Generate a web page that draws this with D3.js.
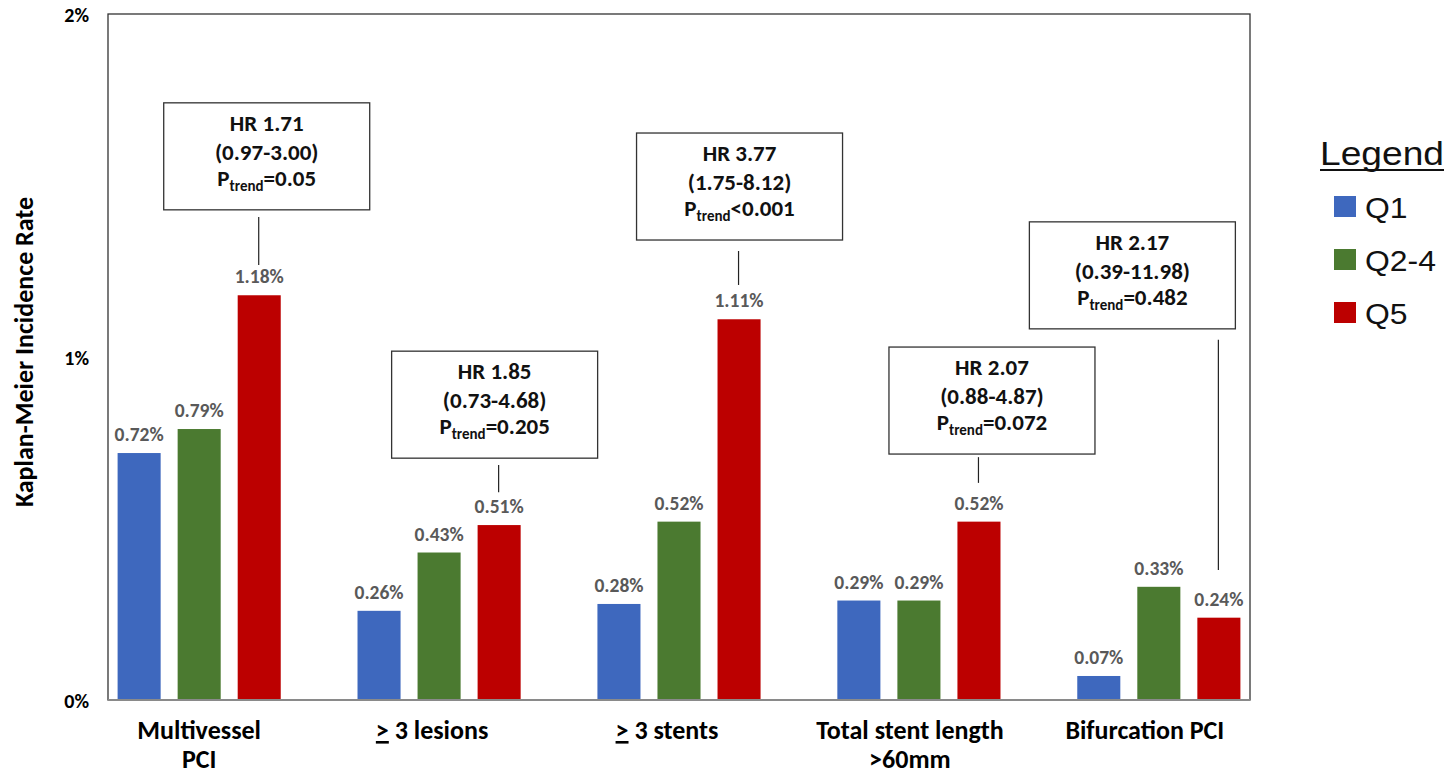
<!DOCTYPE html>
<html>
<head>
<meta charset="utf-8">
<script src="https://cdn.jsdelivr.net/npm/d3@7"></script>
<style>
  html, body { margin: 0; padding: 0; background: #fff; }
  svg { display: block; }
  .bold { font-family: Carlito, Calibri, Lato, "Open Sans", sans-serif; font-weight: 700; }
  .legend { font-family: "Liberation Sans", Arial, Helvetica, sans-serif; }
</style>
</head>
<body>
<svg id="chart" width="1447" height="776"></svg>
<script>
// Procedural complexity categories and Kaplan-Meier incidence rates (%) by quintile
const categories = ["Multivessel PCI", "≥ 3 lesions", "≥ 3 stents", "Total stent length >60mm", "Bifurcation PCI"];
const categoryLines = [["Multivessel", "PCI"], ["≥ 3 lesions"], ["≥ 3 stents"], ["Total stent length", ">60mm"], ["Bifurcation PCI"]];
const series = ["Q1", "Q2-4", "Q5"];
const q1Values = [0.72, 0.26, 0.28, 0.29, 0.07];
const q24Values = [0.79, 0.43, 0.52, 0.29, 0.33];
const q5Values = [1.18, 0.51, 1.11, 0.52, 0.24];
const yTicks = [0, 1, 2];

// Hazard ratio annotations (Q5 vs Q1)
const hrValues = ["1.71", "1.85", "3.77", "2.07", "2.17"];
const hrIntervals = ["0.97-3.00", "0.73-4.68", "1.75-8.12", "0.88-4.87", "0.39-11.98"];
const pTrends = ["=0.05", "=0.205", "<0.001", "=0.072", "=0.482"];

const colors = ["#3E68BE", "#4B7A30", "#BC0000"];

// Placement of each annotation box: horizontal nudge from the Q5 bar centre,
// and box top / connector ends expressed on the rate axis
const annoLayout = [
  { dx: 7.5,   top: 1.741, lineTop: 1.408, lineBottom: 1.268 },
  { dx: -4.5,  top: 1.017, lineTop: 0.685, lineBottom: 0.606 },
  { dx: 0.5,   top: 1.653, lineTop: 1.309, lineBottom: 1.210 },
  { dx: 13,    top: 1.029, lineTop: 0.708, lineBottom: 0.633 },
  { dx: -86.5, top: 1.394, lineTop: 1.050, lineBottom: 0.379 }
];
const labelShift = [0, -7, -12, -9, -14];

const values = [q1Values, q24Values, q5Values];
const svg = d3.select("#chart");

const plot = { left: 108, right: 1250, top: 14, bottom: 700 };

const y = d3.scaleLinear().domain([0, 2]).range([plot.bottom, plot.top]);
const x0 = d3.scaleBand().domain(categories).range([plot.left, plot.right])
  .paddingInner(0.32).paddingOuter(0.04);
const x1 = d3.scaleBand().domain(series).range([0, x0.bandwidth()]).paddingInner(0.283);

// plot frame
svg.append("rect")
  .attr("x", plot.left).attr("y", plot.top)
  .attr("width", plot.right - plot.left).attr("height", plot.bottom - plot.top)
  .attr("fill", "none").attr("stroke", "#333").attr("stroke-width", 1.3);

// bars
const groups = svg.append("g").selectAll("g")
  .data(categories)
  .join("g")
  .attr("transform", c => `translate(${x0(c)},0)`);

groups.selectAll("rect")
  .data((c, i) => series.map((s, j) => ({ s, j, v: values[j][i] })))
  .join("rect")
  .attr("x", d => x1(d.s))
  .attr("y", d => y(d.v))
  .attr("width", x1.bandwidth())
  .attr("height", d => y(0) - y(d.v))
  .attr("fill", d => colors[d.j]);

groups.selectAll("text.val")
  .data((c, i) => series.map((s, j) => ({ s, j, v: values[j][i] })))
  .join("text")
  .attr("class", "val bold")
  .attr("x", d => x1(d.s) + x1.bandwidth() / 2)
  .attr("y", d => y(d.v) - 12)
  .attr("text-anchor", "middle")
  .attr("font-size", 19.5)
  .attr("fill", "#595959")
  .text(d => d.v.toFixed(2) + "%");

// baseline
svg.append("line")
  .attr("x1", plot.left).attr("x2", plot.right)
  .attr("y1", y(0)).attr("y2", y(0))
  .attr("stroke", "#8a8a8a").attr("stroke-width", 2);

// y axis
const yAxis = svg.append("g")
  .attr("transform", `translate(${plot.left},0)`)
  .call(d3.axisLeft(y).tickValues(yTicks).tickSize(0).tickPadding(19).tickFormat(d => d + "%"));
yAxis.select(".domain").remove();
yAxis.selectAll("text")
  .attr("class", "bold")
  .attr("font-size", 20)
  .attr("fill", "#000")
  .attr("dy", "0.35em");

svg.append("text")
  .attr("class", "bold")
  .attr("transform", `translate(33,${(plot.top + plot.bottom) / 2 - 5}) rotate(-90)`)
  .attr("text-anchor", "middle")
  .attr("font-size", 26)
  .attr("fill", "#000")
  .text("Kaplan-Meier Incidence Rate");

// category labels; a leading "≥" is typeset as an underlined ">"
categoryLines.forEach((lines, i) => {
  const cx = x0(categories[i]) + x0.bandwidth() / 2 + labelShift[i];
  lines.forEach((line, k) => {
    const t = svg.append("text")
      .attr("class", "bold")
      .attr("x", cx)
      .attr("y", 739 + k * 29)
      .attr("text-anchor", "middle")
      .attr("font-size", 26)
      .attr("fill", "#000");
    if (line.startsWith("≥")) {
      t.append("tspan").style("text-decoration", "underline").text(">");
      t.append("tspan").text(line.slice(1));
    } else {
      t.text(line);
    }
  });
});

// hazard ratio call-outs
const boxW = 206, boxH = 107;
categories.forEach((c, i) => {
  const L = annoLayout[i];
  const barCx = x0(c) + x1("Q5") + x1.bandwidth() / 2;
  const bx = barCx + L.dx - boxW / 2;
  const by = y(L.top);
  const g = svg.append("g");
  g.append("rect")
    .attr("x", bx).attr("y", by).attr("width", boxW).attr("height", boxH)
    .attr("fill", "#fff").attr("stroke", "#333").attr("stroke-width", 1.3);
  const tx = bx + boxW / 2;
  g.append("text").attr("class", "bold").attr("x", tx).attr("y", by + 28)
    .attr("text-anchor", "middle").attr("font-size", 23).attr("fill", "#111")
    .text("HR " + hrValues[i]);
  g.append("text").attr("class", "bold").attr("x", tx).attr("y", by + 57)
    .attr("text-anchor", "middle").attr("font-size", 23).attr("fill", "#111")
    .text("(" + hrIntervals[i] + ")");
  const p = g.append("text").attr("class", "bold").attr("x", tx).attr("y", by + 83)
    .attr("text-anchor", "middle").attr("font-size", 23).attr("fill", "#111");
  p.append("tspan").text("P");
  p.append("tspan").attr("font-size", 15).attr("dy", 5).text("trend");
  p.append("tspan").attr("dy", -5).text(pTrends[i]);
  g.append("line")
    .attr("x1", barCx - 0.5).attr("x2", barCx - 0.5)
    .attr("y1", y(L.lineTop)).attr("y2", y(L.lineBottom))
    .attr("stroke", "#222").attr("stroke-width", 1.2);
});

// legend
const lg = svg.append("g").attr("class", "legend");
lg.append("text")
  .attr("x", 1320).attr("y", 165)
  .attr("font-size", 33).attr("fill", "#111")
  .attr("textLength", 124).attr("lengthAdjust", "spacingAndGlyphs")
  .text("Legend");
lg.append("line")
  .attr("x1", 1320).attr("x2", 1444).attr("y1", 170).attr("y2", 170)
  .attr("stroke", "#111").attr("stroke-width", 2.2);
series.forEach((s, j) => {
  const yy = 196 + j * 53;
  lg.append("rect")
    .attr("x", 1334).attr("y", yy).attr("width", 22).attr("height", 21)
    .attr("fill", colors[j]);
  const t = lg.append("text")
    .attr("x", 1365).attr("y", yy + 22)
    .attr("font-size", 29).attr("fill", "#111")
    .text(s);
  const w = t.node().getComputedTextLength();
  t.attr("textLength", w * 1.1).attr("lengthAdjust", "spacingAndGlyphs");
});
</script>
</body>
</html>
